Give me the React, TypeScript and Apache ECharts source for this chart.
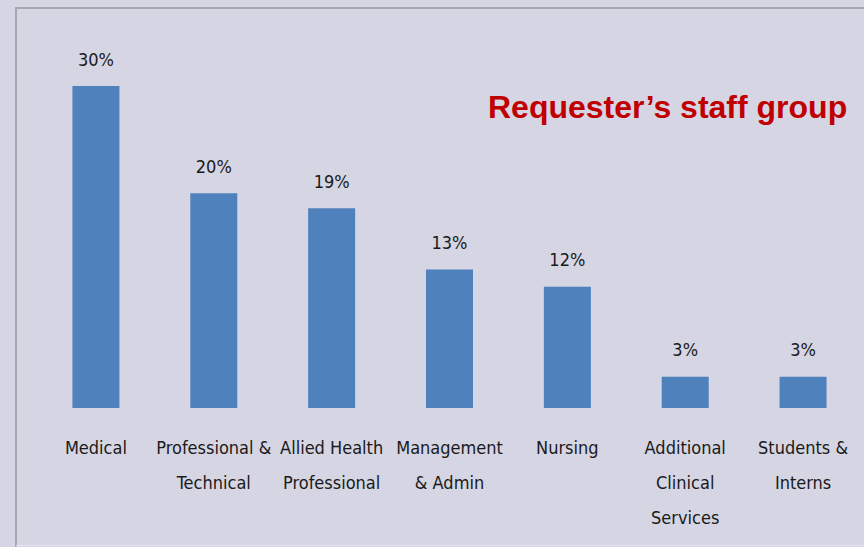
import React, { useEffect, useRef } from "react";
import * as echarts from "echarts";

const categories = [
  "Medical",
  "Professional &\nTechnical",
  "Allied Health\nProfessional",
  "Management\n& Admin",
  "Nursing",
  "Additional\nClinical\nServices",
  "Students &\nInterns",
];
const values = [30, 20, 18.6, 12.9, 11.3, 2.9, 2.9];
const valueLabels = ["30%", "20%", "19%", "13%", "12%", "3%", "3%"];
const titleText = "Requester\u2019s staff group";

const FONT = "'DejaVu Sans Condensed', 'DejaVu Sans', sans-serif";

export default function App() {
  const ref = useRef<HTMLDivElement>(null);
  useEffect(() => {
    if (!ref.current) return;
    const chart = echarts.init(ref.current, null, { renderer: "svg" });
    chart.setOption({
      animation: false,
      backgroundColor: "#d5d5e3",
      grid: { left: 37, right: 2, top: 86, bottom: 139, containLabel: false },
      title: {
        text: titleText,
        left: 483,
        top: 86,
        textStyle: {
          color: "#c00000",
          fontFamily: "'Liberation Sans', Arial, sans-serif",
          fontWeight: "bold",
          fontSize: 32,
        },
      },
      xAxis: {
        type: "category",
        data: categories,
        axisLine: { show: false },
        axisTick: { show: false },
        axisLabel: {
          interval: 0,
          margin: 22,
          color: "#1a1a1a",
          fontFamily: FONT,
          fontSize: 18,
          lineHeight: 35,
          align: "center",
          verticalAlign: "top",
        },
      },
      yAxis: {
        type: "value",
        min: 0,
        max: 30,
        show: false,
        splitLine: { show: false },
      },
      series: [
        {
          type: "bar",
          data: values,
          barWidth: 47,
          itemStyle: { color: "#4f81bd" },
          label: {
            show: true,
            position: "top",
            distance: 18,
            color: "#1a1a1a",
            fontFamily: FONT,
            fontSize: 18,
            formatter: (p: any) => valueLabels[p.dataIndex],
          },
        },
      ],
      graphic: [
        {
          type: "polyline",
          silent: true,
          shape: { points: [[16, 547], [16, 8], [864, 8]] },
          style: { stroke: "#a6a6ae", lineWidth: 2, fill: "none" },
        },
        {
          type: "line",
          silent: true,
          shape: { x1: 16, y1: 545.5, x2: 864, y2: 545.5 },
          style: { stroke: "#e4e4ee", lineWidth: 1 },
        },
      ],
    });
    return () => chart.dispose();
  }, []);
  return (
    <div
      ref={ref}
      style={{ position: "fixed", left: 0, top: 0, width: 864, height: 547 }}
    />
  );
}
